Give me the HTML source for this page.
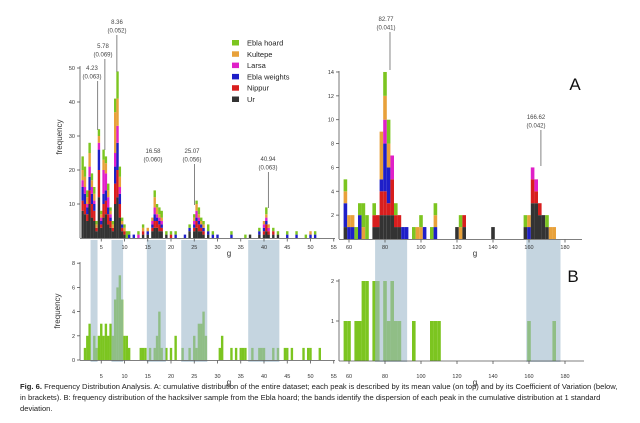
<!DOCTYPE html>
<html><head><meta charset="utf-8"><style>
body{margin:0;background:#fff;width:640px;height:423px;overflow:hidden;font-family:"Liberation Sans",sans-serif}
#cap{position:absolute;left:20px;top:381px;width:604px;font-size:7.6px;line-height:11px;color:#222}
</style></head><body>
<svg id="chart" width="640" height="423" style="position:absolute;left:0;top:0" font-family="Liberation Sans, sans-serif"></svg>
<div id="cap"><b>Fig. 6.</b> Frequency Distribution Analysis. A: cumulative distribution of the entire dataset; each peak is described by its mean value (on top) and by its Coefficient of Variation (below, in brackets). B: frequency distribution of the hacksilver sample from the Ebla hoard; the bands identify the dispersion of each peak in the cumulative distribution at 1 standard deviation.</div>
<script>
const seriesNames=["Ur","Nippur","Ebla weights","Larsa","Kultepe","Ebla hoard"];
const seriesColors=["#333333","#d81e1e","#1e1ec8","#e020c8","#e8a13a","#7cc520"];
// Panel A left: bins (g) and counts per series
const aLeftBins=[1,1.5,2,2.5,3,3.5,4,4.5,5,5.5,6,6.5,7,7.5,8,8.5,9,9.5,10,10.5,11,12,13,14,15,16,16.5,17,17.5,18,19,20,21,23,24,25,25.5,26,26.5,27,28,29,30,33,36,37,39,40,40.5,41,42,43,45,47,49,50,51];
const aLeftUr=[8,7,5,10,6,5,2,12,3,6,7,4,3,2,10,12,6,2,1,0,0,0,0,1,1,2,3,3,2,2,1,0,0,0,2,2,3,2,2,1,1,0,0,0,0,1,1,1,2,1,1,1,0,0,0,0,0];
const aLeftNippur=[3,3,2,4,4,3,1,8,1,4,4,3,2,1,6,8,4,1,1,0,0,0,0,1,0,1,2,2,2,1,0,1,0,0,0,1,2,2,1,1,0,0,0,0,0,0,0,1,2,1,1,0,0,0,0,0,0];
const aLeftEblaW=[4,3,2,4,3,2,0,6,1,3,3,2,1,0,5,8,3,1,0,0,1,1,0,0,1,1,2,1,1,1,0,0,1,1,1,1,1,1,1,1,1,1,1,1,0,0,1,1,1,0,0,0,1,1,0,1,1];
const aLeftLarsa=[2,2,1,3,2,1,0,2,1,7,5,3,1,0,4,5,2,0,0,0,0,0,1,0,0,1,2,1,1,1,0,0,0,0,0,1,2,1,0,0,0,0,0,0,0,0,0,1,1,1,0,0,0,0,0,0,0];
const aLeftKultepe=[3,3,2,4,2,2,1,2,1,3,3,2,1,1,12,8,3,1,1,0,0,0,0,1,1,1,3,2,1,1,0,0,0,0,0,1,2,1,1,1,0,0,0,0,0,0,0,1,1,1,0,0,0,0,0,1,0];
const aLeftEblaH=[4,3,2,3,2,2,1,2,1,3,2,2,1,1,4,8,3,1,1,2,1,0,1,1,0,0,2,1,2,2,1,1,1,0,1,1,1,2,1,1,2,1,0,1,1,0,1,0,2,0,1,1,1,1,1,0,1];
// Panel A right
const aRightBins=[58,60,62,64,66,68,70,74,76,78,80,82,84,86,88,90,92,96,98,100,102,106,108,120,122,124,140,158,160,162,164,166,168,170,172,174];
const aRightUr=[1,0,0,0,0,0,0,1,1,2,2,2,2,1,1,0,0,0,0,0,0,0,0,1,0,1,1,1,0,3,3,2,2,1,0,0];
const aRightNippur=[0,0,0,0,0,0,0,1,1,2,2,1,3,1,1,0,0,0,0,0,0,0,0,0,0,1,0,0,0,2,1,1,0,0,0,0];
const aRightEblaW=[2,1,1,0,2,0,0,0,0,1,4,3,0,0,0,1,1,0,0,0,1,0,1,0,0,0,0,0,1,0,0,0,0,0,0,0];
const aRightLarsa=[0,0,0,0,0,0,0,0,0,0,2,0,2,0,0,0,0,0,0,0,0,0,0,0,0,0,0,0,0,1,1,0,0,0,0,0];
const aRightKultepe=[1,1,1,0,0,1,0,0,0,4,2,2,0,0,0,0,0,0,1,1,0,0,1,0,1,0,0,0,1,0,0,0,0,0,1,1];
const aRightEblaH=[1,0,0,1,1,2,2,1,0,0,2,2,0,1,0,0,0,1,0,1,0,1,1,0,1,0,0,1,0,0,0,0,0,1,0,0];
// Panel B (Ebla hoard sample)
const bLeftBins=[1.5,2,2.5,3.5,4,4.5,5,5.5,6,6.5,7,7.5,8,8.5,9,9.5,10,10.5,11,13.5,14,14.5,15.5,16.5,17,17.5,18,19,20,21,22.5,24,25,25.5,26,26.5,27,27.5,30.5,31,33,34,35,35.5,36,37.5,39,39.5,40,42,43,44.5,45,46,48.5,49.5,50,52];
const bLeftCounts=[1,2,3,2,1,2,3,2,3,2,3,2,5,6,7,5,2,2,1,1,1,1,1,1,2,4,1,1,1,2,1,1,2,1,3,3,4,2,1,2,1,1,1,1,1,1,1,1,1,1,1,1,1,1,1,1,1,1];
const bRightBins=[58,60,64,66,68,70,74,76,80,82,84,86,88,96,106,108,110,160,174];
const bRightCounts=[1,1,1,1,2,2,2,2,2,1,2,1,1,1,1,1,1,1,1];
// peaks
const peakMeans=[4.23,5.78,8.36,16.58,25.07,40.94,82.77,166.62];
const peakCV=["0.063","0.069","0.052","0.060","0.056","0.063","0.041","0.042"];
const bandsLeft=[[2.7,4.2],[7.2,9.7],[14.8,18.9],[22.2,27.8],[36.6,43.3]];
const bandsRight=[74.5,92.3];
const bandsRight2=[158.5,177.5];
const aLeftTicksY=[10,20,30,40,50];
const aRightTicksY=[2,4,6,8,10,12,14];
const bLeftTicksY=[0,2,4,6,8];
const bRightTicksY=[1,2];
const leftTicksX=[5,10,15,20,25,30,35,40,45,50,55];
const rightTicksX=[60,80,100,120,140,160,180];

const svg=document.getElementById('chart');
const NS="http://www.w3.org/2000/svg";
function mk(tag,attrs,parent){const e=document.createElementNS(NS,tag);for(const k in attrs)e.setAttribute(k,attrs[k]);(parent||svg).appendChild(e);return e;}
const xL=g=>78+g*4.65;
const xR=g=>349+(g-60)*1.8;
const yAL=v=>238-v*3.4;
const yAR=v=>239-v*11.93;
const yBL=v=>360-v*12.1;
const yBR=v=>361-v*40;
const aLeftSeries=[aLeftUr,aLeftNippur,aLeftEblaW,aLeftLarsa,aLeftKultepe,aLeftEblaH];
const aRightSeries=[aRightUr,aRightNippur,aRightEblaW,aRightLarsa,aRightKultepe,aRightEblaH];

// B bars
bLeftBins.forEach((g,i)=>{const r=mk('rect',{x:xL(g)-1.2,y:yBL(bLeftCounts[i]),width:2.4,height:yBL(0)-yBL(bLeftCounts[i]),fill:"#7cc520"});

});
bRightBins.forEach((g,i)=>{const r=mk('rect',{x:xR(g)-1.8,y:yBR(bRightCounts[i]),width:3.6,height:yBR(0)-yBR(bRightCounts[i]),fill:"#7cc520"});

});
// bands
bandsLeft.forEach(b=>{const r=mk('rect',{x:xL(b[0]),y:240,width:xL(b[1])-xL(b[0]),height:122,fill:"#9fb9cc","fill-opacity":0.6});

});
[bandsRight,bandsRight2].forEach(b=>{const r=mk('rect',{x:xR(b[0]),y:240,width:xR(b[1])-xR(b[0]),height:122,fill:"#9fb9cc","fill-opacity":0.6});

});

// A stacked bars
function stack(bins,series,xf,yf,w,name){
  bins.forEach((g,i)=>{let c=0;series.forEach((s,k)=>{const v=s[i];if(!v)return;
    const r=mk('rect',{x:xf(g)-w/2,y:yf(c+v),width:w,height:yf(c)-yf(c+v),fill:seriesColors[k]});
    
    
    c+=v;});});
}
stack(aLeftBins,aLeftSeries,xL,yAL,2.4,'a-left-bar');
stack(aRightBins,aRightSeries,xR,yAR,3.6,'a-right-bar');

// axes
function axisY(x,ticks,yf,top,bottom,name){
  const l=mk('line',{x1:x,x2:x,y1:top,y2:bottom,stroke:"#555","stroke-width":0.8});
  
  
  ticks.forEach(t=>{mk('line',{x1:x-3,x2:x,y1:yf(t),y2:yf(t),stroke:"#555","stroke-width":0.8});
    const tx=mk('text',{x:x-5,y:yf(t)+2,"font-size":5.5,"text-anchor":"end",fill:"#333"});tx.textContent=t;
    
    });
}
function axisX(y,ticks,xf,x1,x2,labY,gx,name){
  const l=mk('line',{x1:x1,x2:x2,y1:y,y2:y,stroke:"#555","stroke-width":0.8});
  
  
  ticks.forEach(t=>{mk('line',{x1:xf(t),x2:xf(t),y1:y,y2:y+3,stroke:"#555","stroke-width":0.8});
    const tx=mk('text',{x:xf(t),y:labY,"font-size":5.5,"text-anchor":"middle",fill:"#333"});tx.textContent=t;
    
    });
  const g=mk('text',{x:gx,y:labY+7,"font-size":8,"text-anchor":"middle",fill:"#333"});g.textContent="g";
  
  
}
axisY(80,aLeftTicksY,yAL,66,238,'a-left-y-axis');
axisY(339,aRightTicksY,yAR,71,239,'a-right-y-axis');
axisY(80,bLeftTicksY,yBL,262,360,'b-left-y-axis');
axisY(339,bRightTicksY,yBR,279,361,'b-right-y-axis');
axisX(238.5,leftTicksX,xL,80,335,249,229,'a-left-x-axis');
axisX(239.5,rightTicksX,xR,339,582,249,475,'a-right-x-axis');
axisX(360.5,leftTicksX,xL,80,335,378,229,'b-left-x-axis');
axisX(361,rightTicksX,xR,339,584,378,475,'b-right-x-axis');
[[62,137],[60,311]].forEach(p=>{const t=mk('text',{x:p[0],y:p[1],"font-size":8,"text-anchor":"middle",fill:"#333",transform:`rotate(-90 ${p[0]} ${p[1]})`});t.textContent="frequency";

});

// peak annotations
const annPos=[[92,70,130],[103,48,150],[117,24,72],[153,153,0],[192,153,205],[268,161,208],[386,21,70],[536,119,166]];
peakMeans.forEach((m,i)=>{const p=annPos[i];const xf=m>55?xR:xL;
  const t1=mk('text',{x:p[0],y:p[1],"font-size":6,"text-anchor":"middle",fill:"#444"});t1.textContent=m.toFixed(2);
  
  
  const t2=mk('text',{x:p[0],y:p[1]+8.5,"font-size":6,"text-anchor":"middle",fill:"#444"});t2.textContent="("+peakCV[i]+")";
  
  
  if(p[2]){const l=mk('line',{x1:xf(m),x2:xf(m),y1:p[1]+11,y2:p[2],stroke:"#666","stroke-width":0.8});
  
  }
});

// legend
const legOrder=[5,4,3,2,1,0];
legOrder.forEach((k,i)=>{const y=43+i*11.3;
  const r=mk('rect',{x:232,y:y-3,width:7,height:5.5,fill:seriesColors[k]});
  
  
  const t=mk('text',{x:247,y:y+2.5,"font-size":7.5,fill:"#222"});t.textContent=seriesNames[k];
  
  });

[["A",575,90],["B",573,282]].forEach(p=>{const t=mk('text',{x:p[1],y:p[2],"font-size":17,"text-anchor":"middle",fill:"#111"});t.textContent=p[0];

});
</script>
</body></html>
